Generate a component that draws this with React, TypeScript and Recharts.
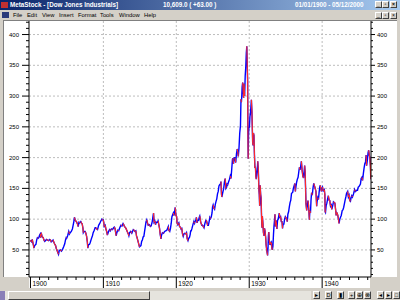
import React from "react";
import { LineChart, Line, XAxis, YAxis, CartesianGrid } from "recharts";

// Dow Jones Industrials 1900 - 1946, closes (decimal year -> index value)
const dates1900s = [
  1900.0, 1900.08, 1900.17, 1900.25, 1900.33, 1900.42, 1900.47, 1900.55, 1900.65, 1900.75, 1900.85, 1900.95,
  1901.05, 1901.15, 1901.25, 1901.35, 1901.4, 1901.47, 1901.55, 1901.65, 1901.75, 1901.85, 1901.95,
  1902.05, 1902.2, 1902.35, 1902.5, 1902.65, 1902.75, 1902.85, 1902.95,
  1903.1, 1903.2, 1903.3, 1903.45, 1903.55, 1903.65, 1903.75, 1903.85, 1903.95,
  1904.1, 1904.25, 1904.4, 1904.55, 1904.7, 1904.8, 1904.9, 1904.97,
  1905.1, 1905.25, 1905.35, 1905.45, 1905.6, 1905.75, 1905.85, 1905.95,
  1906.03, 1906.15, 1906.3, 1906.45, 1906.55, 1906.65, 1906.75, 1906.9, 1906.98,
  1907.1, 1907.2, 1907.25, 1907.35, 1907.5, 1907.6, 1907.7, 1907.8, 1907.87, 1907.95,
  1908.1, 1908.2, 1908.35, 1908.5, 1908.6, 1908.75, 1908.87, 1908.95,
  1909.1, 1909.2, 1909.35, 1909.5, 1909.65, 1909.8, 1909.9, 1909.97,
];
const closes1900s = [
  66, 64, 63, 67, 62, 57, 53, 56, 58, 59, 66, 70,
  69, 70, 74, 76, 70, 78, 74, 71, 70, 66, 64,
  65, 67, 66, 65, 67, 66, 63, 64,
  66, 63, 60, 57, 52, 49, 46, 43, 49,
  50, 48, 51, 55, 60, 66, 70, 69,
  73, 80, 76, 78, 80, 84, 90, 96,
  103, 98, 96, 92, 88, 95, 94, 96, 94,
  92, 85, 78, 80, 80, 77, 72, 63, 53, 58,
  59, 62, 68, 73, 78, 82, 86, 86,
  84, 83, 90, 93, 97, 100, 99, 99,
];

const dates1910s = [
  1910.05, 1910.12, 1910.25, 1910.35, 1910.45, 1910.55, 1910.65, 1910.75, 1910.85, 1910.95,
  1911.1, 1911.25, 1911.4, 1911.5, 1911.6, 1911.7, 1911.75, 1911.85, 1911.95,
  1912.1, 1912.25, 1912.4, 1912.55, 1912.7, 1912.8, 1912.9, 1912.97,
  1913.1, 1913.2, 1913.3, 1913.45, 1913.5, 1913.6, 1913.75, 1913.9, 1913.97,
  1914.1, 1914.2, 1914.35, 1914.45, 1914.55, 1914.6, 1914.95,
  1915.05, 1915.15, 1915.25, 1915.35, 1915.45, 1915.55, 1915.65, 1915.75, 1915.85, 1915.95,
  1916.05, 1916.15, 1916.3, 1916.45, 1916.55, 1916.7, 1916.85, 1916.88, 1916.95,
  1917.05, 1917.15, 1917.25, 1917.4, 1917.5, 1917.6, 1917.7, 1917.8, 1917.9, 1917.97,
  1918.1, 1918.25, 1918.4, 1918.55, 1918.7, 1918.8, 1918.9, 1918.97,
  1919.1, 1919.2, 1919.3, 1919.4, 1919.5, 1919.6, 1919.7, 1919.85, 1919.95,
];
const closes1910s = [
  95, 88, 90, 84, 80, 74, 78, 81, 83, 81,
  84, 83, 86, 87, 85, 77, 73, 78, 82,
  81, 86, 90, 89, 93, 91, 88, 87,
  85, 82, 79, 75, 73, 78, 80, 77, 79,
  83, 82, 80, 81, 72, 71, 55,
  56, 57, 64, 66, 71, 72, 80, 88, 96, 99,
  94, 90, 91, 88, 89, 96, 108, 110, 95,
  97, 91, 95, 95, 97, 91, 85, 75, 68, 74,
  78, 77, 80, 81, 82, 85, 88, 82,
  80, 85, 93, 104, 107, 110, 106, 119, 106,
];

const dates1920s = [
  1920.05, 1920.1, 1920.2, 1920.3, 1920.35, 1920.45, 1920.55, 1920.65, 1920.75, 1920.85, 1920.95,
  1921.05, 1921.15, 1921.3, 1921.4, 1921.5, 1921.6, 1921.7, 1921.8, 1921.9, 1921.97,
  1922.05, 1922.15, 1922.3, 1922.4, 1922.5, 1922.6, 1922.7, 1922.75, 1922.85, 1922.95,
  1923.05, 1923.15, 1923.22, 1923.35, 1923.5, 1923.6, 1923.7, 1923.8, 1923.9, 1923.97,
  1924.05, 1924.15, 1924.3, 1924.4, 1924.5, 1924.6, 1924.7, 1924.8, 1924.9, 1924.97,
  1925.05, 1925.15, 1925.25, 1925.35, 1925.45, 1925.55, 1925.65, 1925.75, 1925.85, 1925.95,
  1926.05, 1926.12, 1926.2, 1926.25, 1926.35, 1926.5, 1926.6, 1926.7, 1926.8, 1926.9, 1926.97,
  1927.05, 1927.15, 1927.3, 1927.4, 1927.5, 1927.6, 1927.7, 1927.75, 1927.85, 1927.95,
  1928.05, 1928.15, 1928.25, 1928.35, 1928.45, 1928.5, 1928.6, 1928.7, 1928.8, 1928.87, 1928.93, 1928.98,
  1929.03, 1929.1, 1929.17, 1929.23, 1929.3, 1929.37, 1929.45, 1929.53, 1929.6, 1929.67, 1929.73, 1929.78,
  1929.82, 1929.86, 1929.9, 1929.95,
];
const closes1920s = [
  104, 94, 91, 93, 94, 88, 87, 84, 85, 76, 72,
  76, 77, 76, 78, 68, 65, 69, 70, 75, 81,
  81, 85, 92, 96, 93, 97, 100, 103, 94, 98,
  98, 103, 105, 95, 90, 90, 88, 86, 92, 95,
  98, 97, 90, 90, 96, 103, 101, 104, 110, 120,
  123, 118, 116, 124, 129, 133, 141, 145, 154, 156,
  157, 161, 140, 136, 142, 150, 160, 166, 150, 152, 157,
  156, 160, 165, 170, 166, 181, 197, 199, 190, 200,
  200, 192, 206, 214, 208, 202, 216, 240, 252, 295, 290, 300,
  315, 322, 308, 297, 320, 300, 333, 348, 370, 381, 350, 325,
  240, 198, 236, 248,
];

const dates1930s = [
  1930.03, 1930.1, 1930.17, 1930.25, 1930.3, 1930.37, 1930.42, 1930.47, 1930.52, 1930.58, 1930.65, 1930.72,
  1930.78, 1930.85, 1930.92, 1930.97,
  1931.05, 1931.12, 1931.17, 1931.25, 1931.32, 1931.38, 1931.43, 1931.47, 1931.5, 1931.57, 1931.63, 1931.7,
  1931.75, 1931.8, 1931.88, 1931.95,
  1932.03, 1932.1, 1932.17, 1932.25, 1932.32, 1932.4, 1932.45, 1932.52, 1932.58, 1932.63, 1932.68, 1932.75,
  1932.83, 1932.9, 1932.97,
  1933.05, 1933.12, 1933.17, 1933.25, 1933.33, 1933.4, 1933.47, 1933.53, 1933.57, 1933.65, 1933.72, 1933.8,
  1933.88, 1933.97,
  1934.05, 1934.12, 1934.2, 1934.3, 1934.4, 1934.5, 1934.57, 1934.65, 1934.75, 1934.85, 1934.95,
  1935.05, 1935.15, 1935.22, 1935.3, 1935.4, 1935.5, 1935.6, 1935.7, 1935.8, 1935.9, 1935.97,
  1936.05, 1936.15, 1936.25, 1936.33, 1936.4, 1936.5, 1936.6, 1936.7, 1936.8, 1936.88, 1936.97,
  1937.05, 1937.15, 1937.25, 1937.35, 1937.45, 1937.55, 1937.6, 1937.67, 1937.72, 1937.78, 1937.85, 1937.88, 1937.95,
  1938.05, 1938.12, 1938.2, 1938.25, 1938.32, 1938.4, 1938.47, 1938.55, 1938.65, 1938.75, 1938.85, 1938.95,
  1939.05, 1939.15, 1939.25, 1939.3, 1939.4, 1939.5, 1939.58, 1939.67, 1939.72, 1939.82, 1939.9, 1939.97,
];
const closes1930s = [
  250, 267, 272, 286, 294, 275, 250, 226, 220, 240, 236, 204,
  183, 185, 169, 165,
  175, 182, 194, 180, 150, 140, 122, 128, 155, 140, 134, 100,
  86, 105, 93, 78,
  73, 85, 80, 71, 58, 50, 46, 41, 54, 73, 79, 66,
  58, 63, 60,
  62, 52, 50, 56, 76, 89, 98, 108, 88, 98, 94, 84,
  98, 100,
  105, 110, 103, 104, 96, 96, 85, 92, 92, 100, 104,
  102, 100, 96, 108, 112, 120, 127, 131, 142, 143, 144,
  150, 154, 158, 145, 152, 160, 165, 168, 177, 184, 180,
  185, 194, 180, 170, 167, 180, 187, 176, 154, 126, 118, 114, 121,
  130, 124, 110, 99, 114, 110, 130, 143, 139, 151, 158, 154,
  150, 145, 121, 128, 135, 132, 143, 152, 155, 150, 145, 150,
];

const dates1940s = [
  1940.05, 1940.15, 1940.3, 1940.37, 1940.42, 1940.46, 1940.55, 1940.65, 1940.75, 1940.85, 1940.95,
  1941.05, 1941.15, 1941.25, 1941.33, 1941.45, 1941.55, 1941.65, 1941.75, 1941.85, 1941.92, 1941.97,
  1942.05, 1942.15, 1942.25, 1942.32, 1942.42, 1942.52, 1942.62, 1942.75, 1942.85, 1942.95,
  1943.05, 1943.15, 1943.25, 1943.35, 1943.5, 1943.6, 1943.7, 1943.8, 1943.88, 1943.97,
  1944.05, 1944.15, 1944.3, 1944.45, 1944.55, 1944.65, 1944.75, 1944.85, 1944.95,
  1945.05, 1945.15, 1945.25, 1945.35, 1945.45, 1945.55, 1945.65, 1945.75, 1945.85, 1945.95,
  1946.03, 1946.1, 1946.2, 1946.3, 1946.38, 1946.45, 1946.55, 1946.62, 1946.66, 1946.69,
];
const closes1940s = [
  152, 146, 148, 140, 112, 111, 122, 126, 133, 138, 131,
  130, 121, 123, 116, 122, 128, 127, 126, 115, 106, 111,
  110, 106, 99, 93, 100, 103, 106, 114, 115, 119,
  125, 131, 136, 142, 145, 136, 139, 130, 129, 135,
  138, 136, 141, 148, 145, 146, 147, 147, 152,
  153, 155, 157, 166, 168, 163, 174, 183, 190, 193,
  204, 187, 196, 208, 212, 205, 200, 186, 170, 165,
];

const dates = [...dates1900s, ...dates1910s, ...dates1920s, ...dates1930s, ...dates1940s];
const closes = [...closes1900s, ...closes1910s, ...closes1920s, ...closes1930s, ...closes1940s];

const priceTicks = [50, 100, 150, 200, 250, 300, 350, 400];
const priceMinorTicks = Array.from({ length: 42 }, (_, i) => (i + 1) * 10);
const yearTicks = [1900, 1910, 1920, 1930, 1940];
const yearMinorTicks = Array.from({ length: 38 }, (_, i) => 1900 + i * 1.25);

const menuItems = ["File", "Edit", "View", "Insert", "Format", "Tools", "Window", "Help"];
const menuLeft = [13, 27, 42, 59, 78, 100, 119, 144];
const navButtons = ["▸", "D", "▮", "+", "⊕", "⊗", "◂", "▸", "□"];
const navLeft = [313, 325, 337, 348, 356, 364, 377, 385, 393];

// blue line everywhere, red over falling stretches; a null row breaks the red line after rises
type Row = { t: number; close: number | null; down: number | null };
const rows: Row[] = [];
for (let i = 0; i < dates.length; i++) {
  const fallsIn = i > 0 && closes[i] < closes[i - 1];
  const fallsOut = i < dates.length - 1 && closes[i + 1] < closes[i];
  rows.push({ t: dates[i], close: closes[i], down: fallsIn || fallsOut ? closes[i] : null });
  if (i < dates.length - 1 && !fallsOut) rows.push({ t: dates[i], close: null, down: null });
}

const FONT = "'Liberation Sans', Arial, sans-serif";

const LeftTick = (p: any) => {
  const v = p.payload.value;
  const major = v % 50 === 0;
  return (
    <g>
      <line x1={p.x - (major ? 7 : 3)} x2={p.x} y1={p.y} y2={p.y} stroke="#000" />
      {major && (
        <text x={p.x - 10} y={p.y + 2} textAnchor="end" fontSize={6} fontFamily={FONT} fill="#000">
          {v}
        </text>
      )}
    </g>
  );
};

const RightTick = (p: any) => {
  const v = p.payload.value;
  const major = v % 50 === 0;
  return (
    <g>
      <line x1={p.x} x2={p.x + (major ? 4 : 2)} y1={p.y} y2={p.y} stroke="#000" />
      {major && (
        <text x={p.x + 6} y={p.y + 2} textAnchor="start" fontSize={6} fontFamily={FONT} fill="#000">
          {v}
        </text>
      )}
    </g>
  );
};

const BottomTick = (p: any) => {
  const v = p.payload.value;
  const major = yearTicks.includes(v);
  return (
    <g>
      <line x1={p.x} x2={p.x} y1={p.y} y2={p.y + (major ? 11 : 3)} stroke="#000" />
      {major && (
        <text x={p.x + 2} y={p.y + 8.5} fontSize={6.5} fontFamily={FONT} fill="#000">
          {v}
        </text>
      )}
    </g>
  );
};

const raised: React.CSSProperties = {
  position: "absolute",
  boxSizing: "border-box",
  background: "#D4D0C8",
  borderTop: "1px solid #fff",
  borderLeft: "1px solid #fff",
  borderRight: "1px solid #404040",
  borderBottom: "1px solid #404040",
  fontSize: 5,
  lineHeight: "5px",
  textAlign: "center",
  color: "#000",
};

function WinButtons({ top }: { top: number }) {
  return (
    <>
      <div style={{ ...raised, left: 375, top, width: 7, height: 7 }}>_</div>
      <div style={{ ...raised, left: 382, top, width: 7, height: 7 }}>▫</div>
      <div style={{ ...raised, left: 390, top, width: 7, height: 7 }}>×</div>
    </>
  );
}

export default function App() {
  return (
    <div
      style={{
        position: "fixed",
        left: 0,
        top: 0,
        width: 400,
        height: 300,
        overflow: "hidden",
        background: "#D4D0C8",
        fontFamily: FONT,
      }}
    >
      {/* title bar */}
      <div
        style={{
          position: "absolute",
          left: 0,
          top: 0,
          width: 400,
          height: 10,
          background: "linear-gradient(to right, #0A246A, #A6CAF0)",
          color: "#fff",
          fontWeight: "bold",
          fontSize: 6.3,
          lineHeight: "10px",
        }}
      >
        <div style={{ position: "absolute", left: 1, top: 2, width: 7, height: 6, background: "#C03030" }} />
        <span style={{ position: "absolute", left: 10 }}>MetaStock - [Dow Jones Industrials]</span>
        <span style={{ position: "absolute", left: 163 }}>10,609.0 ( +63.00 )</span>
        <span style={{ position: "absolute", left: 295 }}>01/01/1900 - 05/12/2000</span>
        <WinButtons top={1} />
      </div>

      {/* menu bar */}
      <div style={{ position: "absolute", left: 0, top: 10, width: 400, height: 10, fontSize: 5.8, lineHeight: "10px" }}>
        <div style={{ position: "absolute", left: 2, top: 2, width: 7, height: 6, background: "#2A3A7A" }} />
        {menuItems.map((m, i) => (
          <span key={m} style={{ position: "absolute", left: menuLeft[i] }}>
            {m}
          </span>
        ))}
        <WinButtons top={1.5} />
      </div>

      {/* chart panels */}
      <div
        style={{
          position: "absolute",
          left: 3,
          top: 20,
          width: 394,
          height: 257,
          background: "#fff",
          borderTop: "1px solid #808080",
          borderLeft: "1px solid #808080",
          boxSizing: "border-box",
        }}
      />
      <div style={{ position: "absolute", left: 29, top: 277, width: 341, height: 11, background: "#fff" }} />

      {/* scroll bar */}
      <div style={{ position: "absolute", left: 0, top: 291, width: 5, height: 9, background: "#8A7FB8" }} />
      <div style={{ position: "absolute", left: 5, top: 291, width: 306, height: 9, background: "#E6E4DE" }} />
      <div style={{ ...raised, left: 8, top: 291, width: 142, height: 9 }} />
      {navButtons.map((b, i) => (
        <div key={i} style={{ ...raised, left: navLeft[i], top: 291, width: 7, height: 8, fontSize: 5.5, lineHeight: "6px" }}>
          {b}
        </div>
      ))}

      <div style={{ position: "absolute", left: 0, top: 0 }}>
        <LineChart width={400} height={300} data={rows} margin={{ top: 21, right: 4, bottom: 12, left: 4 }}>
          <CartesianGrid
            xAxisId="x"
            yAxisId="left"
            stroke="#BDBDBD"
            strokeDasharray="2 2"
            horizontalValues={priceTicks}
            verticalValues={yearTicks.slice(1)}
          />
          <XAxis
            xAxisId="x"
            dataKey="t"
            type="number"
            domain={[1899.8, 1946.7]}
            allowDataOverflow
            ticks={yearMinorTicks}
            interval={0}
            tickSize={0}
            tickMargin={0}
            height={11}
            stroke="#000"
            tick={BottomTick}
          />
          <YAxis
            yAxisId="left"
            orientation="left"
            type="number"
            domain={[6, 422]}
            allowDataOverflow
            ticks={priceMinorTicks}
            interval={0}
            tickSize={0}
            tickMargin={0}
            width={25}
            stroke="#000"
            tick={LeftTick}
          />
          <YAxis
            yAxisId="right"
            orientation="right"
            type="number"
            domain={[6, 422]}
            allowDataOverflow
            ticks={priceMinorTicks}
            interval={0}
            tickSize={0}
            tickMargin={0}
            width={25}
            stroke="#000"
            tick={RightTick}
          />
          <Line
            xAxisId="x"
            yAxisId="left"
            dataKey="close"
            type="linear"
            stroke="#0000FF"
            strokeWidth={1.4}
            dot={false}
            connectNulls
            isAnimationActive={false}
          />
          <Line
            xAxisId="x"
            yAxisId="left"
            dataKey="down"
            type="linear"
            stroke="#FF2A2A"
            strokeWidth={1.15}
            dot={false}
            isAnimationActive={false}
          />
        </LineChart>
      </div>
    </div>
  );
}
